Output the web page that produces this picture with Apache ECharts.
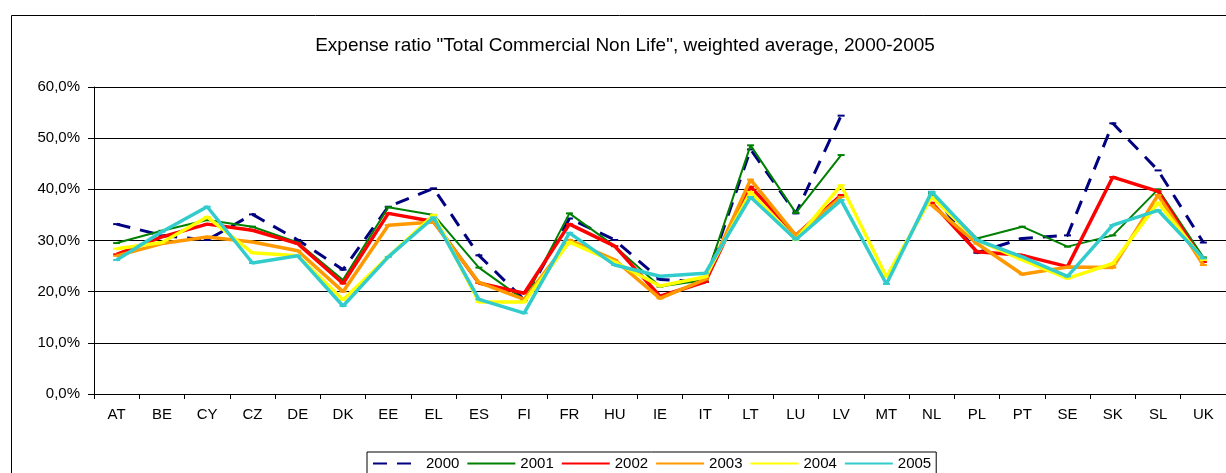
<!DOCTYPE html>
<html>
<head>
<meta charset="utf-8">
<script src="https://cdn.jsdelivr.net/npm/echarts@6/dist/echarts.min.js"></script>
<style>
  html, body { margin: 0; padding: 0; background: #fff; }
  #chart { width: 1226px; height: 473px; }
</style>
</head>
<body>
<div id="chart"></div>
<script>
const countries = ['AT', 'BE', 'CY', 'CZ', 'DE', 'DK', 'EE', 'EL', 'ES', 'FI', 'FR', 'HU', 'IE', 'IT',
  'LT', 'LU', 'LV', 'MT', 'NL', 'PL', 'PT', 'SE', 'SK', 'SL', 'UK']
const yTicks = [0, 10, 20, 30, 40, 50, 60]

// expense ratio in % (null = no value)
const y2000 = [33.2, 31.0, 30.1, 35.1, 30.1, 24.3, 36.6, 40.2, 27.1, 18.4, 34.3, 30.1, 22.4, 21.9,
  47.8, 35.3, 54.4, null, 39.5, 27.6, 30.4, 31.0, 52.9, 43.7, 29.6]
const y2001 = [29.5, 31.9, 34.0, 32.7, 29.6, 22.3, 36.5, 35.0, 24.7, 18.4, 35.3, 28.9, 21.0, 22.3,
  48.6, 35.4, 46.7, null, 39.2, 30.4, 32.7, 28.8, 31.0, 40.0, 26.7]
const y2002 = [27.3, 30.7, 33.2, 32.0, 29.4, 21.6, 35.3, 33.7, 21.7, 19.7, 33.2, 28.9, 19.1, 21.9,
  40.5, 31.0, 38.9, null, 37.4, 27.8, 27.1, 24.9, 42.4, 39.6, 25.8]
const y2003 = [27.0, 29.4, 30.7, 29.7, 28.0, 20.0, 33.0, 33.6, 21.8, 18.5, 30.1, 26.2, 18.7, 22.4,
  41.9, 31.0, 38.5, null, 36.9, 29.4, 23.4, 24.8, 24.7, 38.9, 25.2]
const y2004 = [28.4, 29.6, 34.6, 27.6, 27.0, 18.4, 26.8, 35.0, 18.0, 18.0, 29.7, 25.8, 21.1, 22.9,
  39.5, 30.1, 40.8, 22.9, 38.5, 30.1, 26.2, 22.6, 25.5, 37.4, 26.2]
const y2005 = [26.2, 31.7, 36.6, 25.6, 27.0, 17.2, 26.8, 34.5, 18.5, 15.8, 31.5, 25.2, 23.0, 23.6,
  38.5, 30.2, 37.9, 21.5, 39.5, 30.1, 26.8, 23.0, 33.0, 35.9, 26.5]

const years = ['2000', '2001', '2002', '2003', '2004', '2005']
const values = [y2000, y2001, y2002, y2003, y2004, y2005]
const colors = ['#000080', '#008000', '#ff0000', '#ff9900', '#ffff00', '#33cccc']
const widths = [3, 2, 3.5, 3.5, 3.5, 3.5]

const chart = echarts.init(document.getElementById('chart'))

chart.setOption({
  animation: false,
  textStyle: { fontFamily: 'Liberation Sans, Arial, sans-serif', color: '#000' },
  title: {
    text: 'Expense ratio "Total Commercial Non Life", weighted average, 2000-2005',
    left: 620,
    textAlign: 'center',
    top: 31,
    textStyle: { fontSize: 19, fontWeight: 'normal', color: '#000' }
  },
  graphic: [
    {
      type: 'rect',
      shape: { x: 11.5, y: 15.5, width: 1240, height: 480 },
      style: { fill: 'none', stroke: '#000', lineWidth: 1 },
      silent: true
    }
  ],
  legend: {
    left: 367,
    top: 452,
    data: years,
    itemWidth: 48,
    itemHeight: 14,
    itemGap: 7,
    padding: [4, 5, 8, 5],
    borderColor: '#000',
    borderWidth: 1,
    itemStyle: { opacity: 0 },
    textStyle: { fontSize: 15, color: '#000' }
  },
  grid: {
    left: 94,
    top: 87,
    width: 1140,
    height: 307
  },
  xAxis: {
    type: 'category',
    data: countries,
    axisLine: { lineStyle: { color: '#000', width: 1 } },
    axisTick: { show: true, length: 5, lineStyle: { color: '#000' } },
    axisLabel: { fontSize: 15, color: '#000', margin: 13 }
  },
  yAxis: {
    type: 'value',
    min: yTicks[0],
    max: yTicks[yTicks.length - 1],
    interval: 10,
    axisLine: { show: true, lineStyle: { color: '#000', width: 1 } },
    axisTick: { show: true, length: 6, lineStyle: { color: '#000' } },
    splitLine: { lineStyle: { color: '#000', width: 1 } },
    axisLabel: {
      fontSize: 15,
      color: '#000',
      margin: 14,
      formatter: v => v.toFixed(1).replace('.', ',') + '%'
    }
  },
  series: years.map((y, i) => ({
    name: y,
    type: 'line',
    data: values[i],
    color: colors[i],
    symbol: 'rect',
    symbolSize: [7, 2],
    showSymbol: true,
    connectNulls: false,
    lineStyle: {
      color: colors[i],
      width: widths[i],
      type: i === 0 ? [14, 10] : 'solid'
    },
    itemStyle: { color: colors[i] },
    z: 2 + i
  }))
})
</script>
</body>
</html>
